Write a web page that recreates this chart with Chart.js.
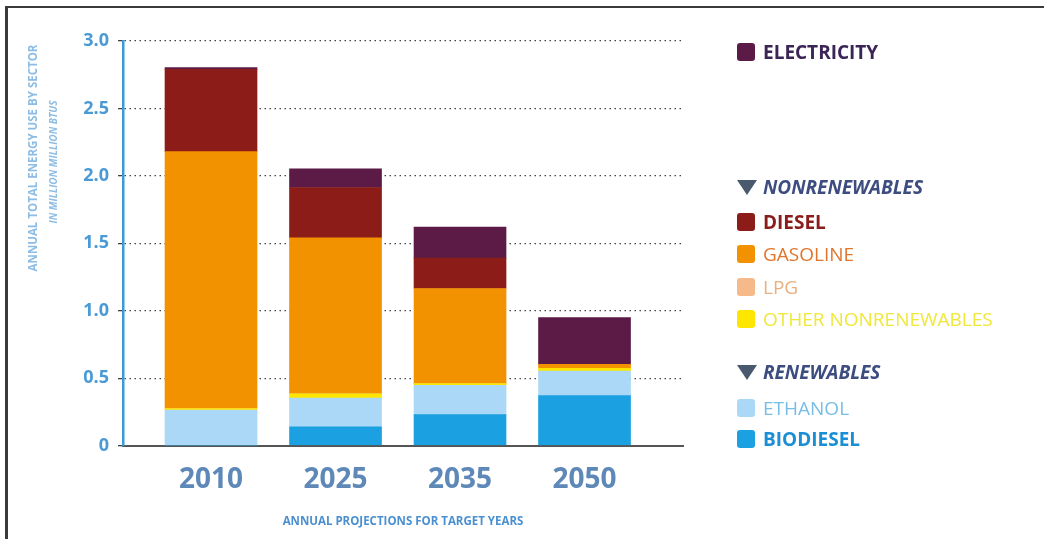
<!DOCTYPE html>
<html>
<head>
<meta charset="utf-8">
<script src="https://cdn.jsdelivr.net/npm/chart.js@4/dist/chart.umd.min.js"></script>
<style>
html,body{margin:0;padding:0;background:#fff;}
#wrap{position:relative;width:1044px;height:539px;overflow:hidden;background:#fff;}
#frame{position:absolute;left:5px;top:6px;width:1100px;height:600px;border-top:2px solid #3a3a3a;border-left:3px solid #3a3a3a;pointer-events:none;}
#c{position:absolute;left:0;top:0;}
#legend{position:absolute;left:0;top:0;width:1044px;height:539px;font-family:'Open Sans',sans-serif;pointer-events:none;}
.item{position:absolute;left:737px;display:flex;align-items:center;white-space:nowrap;font-size:19px;line-height:20px;}
.sw{width:18px;height:18px;border-radius:3px;margin-right:8px;flex:none;}
.tri{width:0;height:0;border-left:10px solid transparent;border-right:10px solid transparent;border-top:15px solid #4a5a6e;margin-right:6px;flex:none;}
</style>
</head>
<body>
<div id="wrap">
<canvas id="c" width="1044" height="539"></canvas>
<div id="legend"></div>
<div id="frame"></div>
</div>
<script>
// ---- data ----
const years = ['2010', '2025', '2035', '2050'];
const yTickLabels = ['0', '0.5', '1.0', '1.5', '2.0', '2.5', '3.0'];
const biodiesel = [0, 0.14, 0.23, 0.37];
const ethanol = [0.263, 0.212, 0.217, 0.183];
const otherNonrenewables = [0.012, 0.032, 0.013, 0.02];
const lpg = [0, 0, 0, 0];
const gasoline = [1.905, 1.156, 0.705, 0.03];
const diesel = [0.61, 0.374, 0.225, 0];
const electricity = [0.013, 0.138, 0.23, 0.347];
const yTitleLines = ['ANNUAL TOTAL ENERGY USE BY SECTOR', 'IN MILLION MILLION BTUS'];
const xTitle = 'ANNUAL PROJECTIONS FOR TARGET YEARS';
const groupNonrenewables = 'NONRENEWABLES';
const groupRenewables = 'RENEWABLES';

// ---- styles ----
const series = [
  {key:'biodiesel', label:'BIODIESEL', data:biodiesel, color:'#1ba1e2', text:'#1a8fd6', bold:true},
  {key:'ethanol', label:'ETHANOL', data:ethanol, color:'#aad8f6', text:'#78bde6', bold:false},
  {key:'other', label:'OTHER NONRENEWABLES', data:otherNonrenewables, color:'#ffe600', text:'#efe83a', bold:false},
  {key:'lpg', label:'LPG', data:lpg, color:'#f6b98a', text:'#e8b07e', bold:false},
  {key:'gasoline', label:'GASOLINE', data:gasoline, color:'#f39200', text:'#e0762c', bold:false},
  {key:'diesel', label:'DIESEL', data:diesel, color:'#8c1c17', text:'#8a1c1c', bold:true},
  {key:'electricity', label:'ELECTRICITY', data:electricity, color:'#5b1b46', text:'#3b2456', bold:true}
];
const byKey = Object.fromEntries(series.map(s => [s.key, s]));

// legend layout (row centers in px)
const legendLayout = [
  {type:'s', key:'electricity', y:52},
  {type:'h', text:groupNonrenewables, y:187},
  {type:'s', key:'diesel', y:222},
  {type:'s', key:'gasoline', y:254},
  {type:'s', key:'lpg', y:287},
  {type:'s', key:'other', y:319},
  {type:'h', text:groupRenewables, y:372},
  {type:'s', key:'ethanol', y:408},
  {type:'s', key:'biodiesel', y:439}
];
const legendEl = document.getElementById('legend');
legendLayout.forEach(r => {
  const d = document.createElement('div');
  d.className = 'item';
  d.style.top = (r.y - 10) + 'px';
  if (r.type === 's') {
    const s = byKey[r.key];
    const sw = document.createElement('span'); sw.className = 'sw'; sw.style.background = s.color;
    const t = document.createElement('span'); t.textContent = s.label; t.style.color = s.text;
    t.style.fontWeight = s.bold ? '700' : '400';
    d.appendChild(sw); d.appendChild(t);
  } else {
    const tr = document.createElement('span'); tr.className = 'tri';
    const t = document.createElement('span'); t.textContent = r.text; t.style.color = '#3d4d80';
    t.style.fontWeight = '700'; t.style.fontStyle = 'italic';
    d.appendChild(tr); d.appendChild(t);
  }
  legendEl.appendChild(d);
});

const yTitlePlugin = {
  id: 'yTitle',
  afterDraw(chart) {
    const {ctx, chartArea} = chart;
    ctx.save();
    ctx.fillStyle = '#8dbde4';
    ctx.textAlign = 'center';
    ctx.textBaseline = 'middle';
    ctx.translate(34, chartArea.top + 117);
    ctx.rotate(-Math.PI / 2);
    ctx.font = 'bold 11.5px "Open Sans"';
    ctx.fillText(yTitleLines[0], 0, 0);
    ctx.font = 'italic bold 10px "Open Sans"';
    ctx.fillText(yTitleLines[1], -4, 20);
    ctx.restore();
  }
};

new Chart(document.getElementById('c'), {
  type: 'bar',
  data: {
    datasets: series.map(s => ({
      label: s.label,
      data: s.data.map((v, i) => ({x: i, y: v})),
      backgroundColor: s.color,
      borderWidth: 0,
      barThickness: 92,
      stack: 'a'
    }))
  },
  options: {
    responsive: false,
    animation: false,
    layout: {padding: {left: 0, right: 361, top: 41, bottom: 10}},
    plugins: {legend: {display: false}, tooltip: {enabled: false}},
    scales: {
      x: {
        type: 'linear',
        stacked: true,
        offset: false,
        min: -0.707,
        max: 3.791,
        grid: {display: false, drawTicks: false},
        border: {display: true, color: '#555', width: 2},
        ticks: {
          stepSize: 1, includeBounds: false, autoSkip: false, maxRotation: 0,
          padding: 18,
          color: '#5d88b8',
          font: {family: 'Open Sans', size: 28, weight: 'bold'},
          callback: (v) => (Number.isInteger(v) && years[v] !== undefined) ? years[v] : ''
        },
        title: {
          display: true, text: xTitle, color: '#4a90d0',
          font: {family: 'Open Sans', size: 11.5, weight: 'bold'},
          padding: {top: 0, bottom: 0}
        }
      },
      y: {
        stacked: true,
        min: 0, max: 3,
        afterFit(scale) { scale.width = 123; },
        grid: {color: '#444', lineWidth: 1.3, drawTicks: true, tickLength: 5, tickColor: '#444'},
        border: {display: true, color: '#3a9ad9', width: 2.5, dash: [1.5, 3.5]},
        ticks: {
          stepSize: 0.5, padding: 9,
          color: '#4a9ad6',
          font: {family: 'Open Sans', size: 18, weight: 'bold'},
          callback: (v, i) => yTickLabels[i]
        }
      }
    }
  },
  plugins: [yTitlePlugin]
});
</script>
</body>
</html>
